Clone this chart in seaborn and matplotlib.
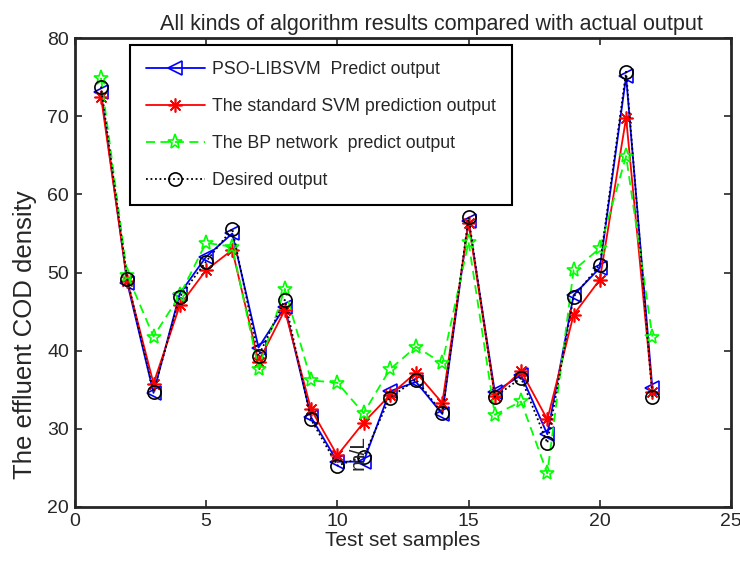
import numpy as np
import pandas as pd
import seaborn as sns
import matplotlib
matplotlib.use("Agg")
from matplotlib import pyplot as plt

samples = list(range(1, 23))
desired = [73.8, 49.2, 34.7, 46.9, 51.4, 55.6, 39.3, 46.5, 31.2, 25.3, 26.4,
           34.0, 36.3, 32.0, 57.1, 34.1, 36.5, 28.2, 46.9, 51.0, 75.7, 34.1]
pso_libsvm = [73.1, 48.7, 34.6, 47.3, 52.0, 55.0, 40.4, 45.6, 31.5, 25.8, 25.8,
              34.8, 36.0, 31.9, 56.6, 34.7, 36.9, 29.3, 47.1, 50.6, 75.1, 35.2]
std_svm = [72.5, 48.9, 35.8, 45.8, 50.3, 52.9, 38.6, 45.2, 32.5, 26.6, 30.8,
           34.3, 37.2, 33.3, 56.4, 34.2, 37.4, 31.2, 44.6, 49.1, 69.8, 34.7]
bp_net = [74.9, 49.7, 41.8, 47.1, 53.8, 53.3, 37.7, 47.9, 36.2, 35.9, 32.0,
          37.6, 40.5, 38.4, 53.9, 31.8, 33.5, 24.3, 50.3, 53.1, 64.9, 41.8]

labels = ["PSO-LIBSVM  Predict output",
          "The standard SVM prediction output",
          "The BP network  predict output",
          "Desired output"]

df = pd.DataFrame({"sample": samples, "pso": pso_libsvm, "svm": std_svm,
                   "bp": bp_net, "desired": desired})

sns.set_style("ticks")
plt.rcParams["font.family"] = ["Liberation Sans", "DejaVu Sans"]
plt.rcParams["xtick.direction"] = "in"
plt.rcParams["ytick.direction"] = "in"

fig = plt.figure(figsize=(7.4, 5.69), dpi=100)
ax = fig.add_axes([0.101, 0.109, 0.887, 0.824])

sns.lineplot(data=df, x="sample", y="pso", ax=ax, color="#0000ff", lw=1.3,
             marker="<", ms=10, mfc="none", mec="#0000ff", mew=1.2, label=labels[0])
sns.lineplot(data=df, x="sample", y="svm", ax=ax, color="#ff0000", lw=1.3,
             marker=(8, 2, 0), ms=10, mec="#ff0000", mew=1.2, label=labels[1])
sns.lineplot(data=df, x="sample", y="bp", ax=ax, color="#00ff00", lw=1.3,
             marker="*", ms=11, mfc="none", mec="#00ff00", mew=1.2, label=labels[2])
sns.lineplot(data=df, x="sample", y="desired", ax=ax, color="black", lw=1.3,
             marker="o", ms=9.5, mfc="none", mec="black", mew=1.2, label=labels[3])
ax.lines[2].set_dashes([5, 3])
ax.lines[3].set_dashes([1, 1.5])

ax.set_xlim(0, 25)
ax.set_ylim(20, 80)
ax.set_xticks(range(0, 26, 5))
ax.set_yticks(range(20, 81, 10))
ax.tick_params(top=True, right=True, labelsize=14, length=5, width=1.2, pad=4)
for s in ax.spines.values():
    s.set_linewidth(2)
    s.set_visible(True)

ax.set_title("All kinds of algorithm results compared with actual output",
             fontsize=15.5, pad=6, x=0.544)
ax.set_xlabel("Test set samples", fontsize=15, labelpad=1)
ax.set_ylabel("The effluent COD density", fontsize=18.5)
ax.yaxis.set_label_coords(-0.058, 0.367)

# stray rotated unit text in the original picture
ax.text(10.8, 24.7, "m/L", rotation=90, fontsize=15, ha="center", va="bottom")

leg = ax.legend(loc="upper left", bbox_to_anchor=(0.084, 0.985), fontsize=12.8,
                frameon=True, fancybox=False, edgecolor="black",
                handlelength=3.3, handletextpad=0.4, borderpad=0.9,
                labelspacing=1.12, borderaxespad=0)
leg.get_frame().set_linewidth(1.5)
leg.get_frame().set_alpha(1)
for line in leg.get_lines():
    line.set_linewidth(1.3)

fig.savefig("out.png", dpi=100)
